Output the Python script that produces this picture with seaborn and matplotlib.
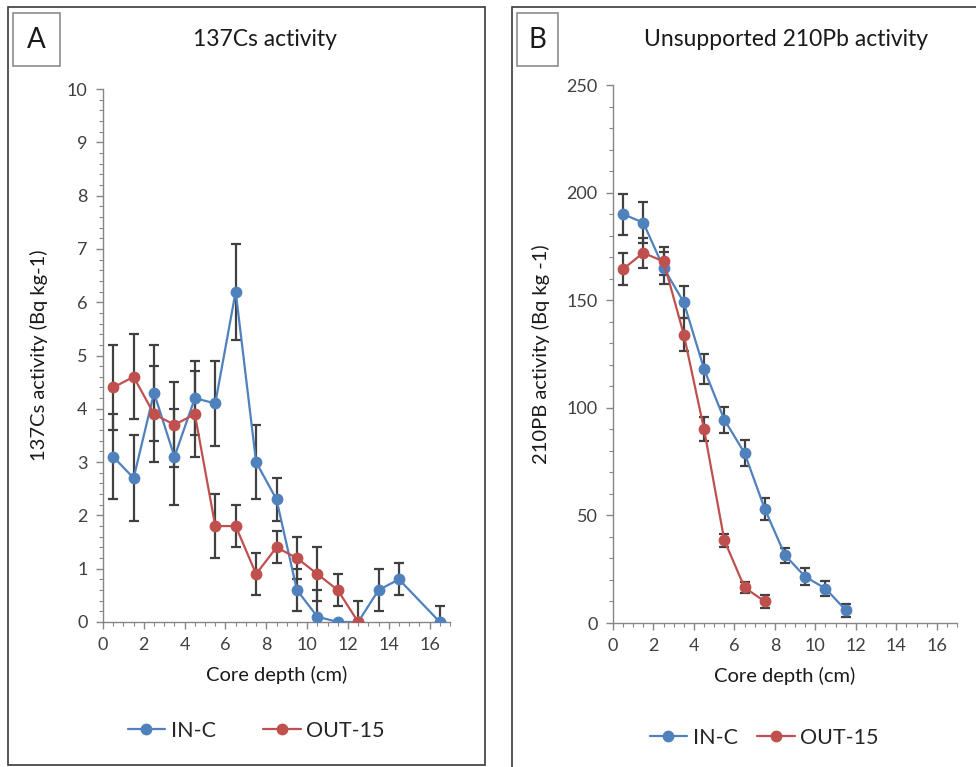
import matplotlib
matplotlib.use('Agg')
import matplotlib.pyplot as plt
import seaborn as sns
import pandas as pd
from matplotlib.ticker import MultipleLocator
from matplotlib.patches import Rectangle
from matplotlib.lines import Line2D

# ---------------- data ----------------
series_names = ['IN-C', 'OUT-15']

# Panel A: 137Cs activity
cs_in_depth = [0.5, 1.5, 2.5, 3.5, 4.5, 5.5, 6.5, 7.5, 8.5, 9.5, 10.5, 11.5, 12.5, 13.5, 14.5, 16.5]
cs_in_value = [3.1, 2.7, 4.3, 3.1, 4.2, 4.1, 6.2, 3.0, 2.3, 0.6, 0.1, 0.0, 0.0, 0.6, 0.8, 0.0]
cs_in_error = [0.8, 0.8, 0.9, 0.9, 0.7, 0.8, 0.9, 0.7, 0.4, 0.4, 0.5, 0.0, 0.0, 0.4, 0.3, 0.3]

cs_out_depth = [0.5, 1.5, 2.5, 3.5, 4.5, 5.5, 6.5, 7.5, 8.5, 9.5, 10.5, 11.5, 12.5]
cs_out_value = [4.4, 4.6, 3.9, 3.7, 3.9, 1.8, 1.8, 0.9, 1.4, 1.2, 0.9, 0.6, 0.0]
cs_out_error = [0.8, 0.8, 0.9, 0.8, 0.8, 0.6, 0.4, 0.4, 0.3, 0.4, 0.5, 0.3, 0.4]

# Panel B: unsupported 210Pb activity
pb_in_depth = [0.5, 1.5, 2.5, 3.5, 4.5, 5.5, 6.5, 7.5, 8.5, 9.5, 10.5, 11.5]
pb_in_value = [190, 186, 165, 149, 118, 94.5, 79, 53, 31.5, 21.5, 16, 6]
pb_in_error = [9.5, 9.5, 7.5, 7.5, 7, 6, 6, 5, 3.5, 4, 3.5, 3]

pb_out_depth = [0.5, 1.5, 2.5, 3.5, 4.5, 5.5, 6.5, 7.5]
pb_out_value = [164.5, 172, 168, 134, 90, 38.5, 16.5, 10]
pb_out_error = [7.5, 7, 6.5, 7.5, 5.5, 3, 2.5, 3]

x_ticks = [0, 2, 4, 6, 8, 10, 12, 14, 16]

# ---------------- style ----------------
sns.set_theme(style='white')
plt.rcParams['font.family'] = ['Lato', 'DejaVu Sans']

BLUE = '#4F81BD'
RED = '#C0504D'
ERR = '#404040'
AXIS = '#868686'
palette = {'IN-C': BLUE, 'OUT-15': RED}

fig = plt.figure(figsize=(9.76, 7.67), dpi=100)
axA = fig.add_axes([103 / 976, 1 - 622 / 767, (450 - 103) / 976, (622 - 89) / 767])
axB = fig.add_axes([613 / 976, 1 - 623 / 767, (957 - 613) / 976, (623 - 85) / 767])


def make_frame(d_in, v_in, e_in, d_out, v_out, e_out):
    a = pd.DataFrame({'depth': d_in, 'act': v_in, 'err': e_in, 'site': 'IN-C'})
    b = pd.DataFrame({'depth': d_out, 'act': v_out, 'err': e_out, 'site': 'OUT-15'})
    return pd.concat([a, b], ignore_index=True)


def draw(ax, df, ymax, ymajor, yminor, ylabel, ylabelpad):
    for name in series_names:
        sub = df[df['site'] == name]
        ax.errorbar(sub['depth'], sub['act'], yerr=sub['err'], fmt='none',
                    ecolor=ERR, elinewidth=1.6, capsize=3.5, capthick=1.6, zorder=2)
    sns.lineplot(data=df, x='depth', y='act', hue='site', hue_order=series_names,
                 palette=palette, marker='o', markersize=8.5, markeredgewidth=0,
                 linewidth=1.6, sort=False, estimator=None, errorbar=None,
                 legend=False, ax=ax, zorder=3)
    ax.set_xlim(0, 17)
    ax.set_ylim(0, ymax)
    ax.set_xticks(x_ticks)
    ax.xaxis.set_minor_locator(MultipleLocator(0.5))
    ax.yaxis.set_major_locator(MultipleLocator(ymajor))
    ax.yaxis.set_minor_locator(MultipleLocator(yminor))
    for s in ['top', 'right']:
        ax.spines[s].set_visible(False)
    for s in ['left', 'bottom']:
        ax.spines[s].set_color(AXIS)
        ax.spines[s].set_linewidth(1.0)
    ax.tick_params(which='major', direction='out', length=5, width=1, color=AXIS,
                   labelsize=13, labelcolor='#404040', left=True, bottom=True, pad=6)
    ax.tick_params(which='minor', direction='out', length=3, width=0.8, color=AXIS,
                   left=True, bottom=True)
    ax.set_xlabel('Core depth (cm)', fontsize=14.5, color='#1a1a1a', labelpad=9)
    ax.set_ylabel(ylabel, fontsize=14.5, color='#1a1a1a', labelpad=ylabelpad)
    ax.patch.set_alpha(0)


dfA = make_frame(cs_in_depth, cs_in_value, cs_in_error, cs_out_depth, cs_out_value, cs_out_error)
dfB = make_frame(pb_in_depth, pb_in_value, pb_in_error, pb_out_depth, pb_out_value, pb_out_error)

draw(axA, dfA, 10, 1, 0.2, '137Cs activity (Bq kg-1)', 14)
draw(axB, dfB, 250, 50, 10, '210PB activity (Bq kg -1)', 12)

# panel frames
fig.patches.append(Rectangle((8 / 976, 1 - 765 / 767), (485 - 8) / 976, (765 - 7) / 767,
                             transform=fig.transFigure, fill=False, ec='#3a3a3a', lw=1.2))
fig.patches.append(Rectangle((512 / 976, -0.05), 0.6, 1.05 - 7 / 767,
                             transform=fig.transFigure, fill=False, ec='#3a3a3a', lw=1.2))
# letter boxes
for (x0, x1, letter) in [(13, 60, 'A'), (517, 558, 'B')]:
    fig.patches.append(Rectangle((x0 / 976, 1 - 66 / 767), (x1 - x0) / 976, 53 / 767,
                                 transform=fig.transFigure, fill=False, ec='#8c8c8c', lw=1.2))
    fig.text((x0 + x1) / 2 / 976, 1 - 40 / 767, letter, ha='center', va='center',
             fontsize=20, color='#1a1a1a')

fig.text(265 / 976, 1 - 40 / 767, '137Cs activity', ha='center', va='center',
         fontsize=16.5, color='#1a1a1a')
fig.text(786 / 976, 1 - 40 / 767, 'Unsupported 210Pb activity', ha='center', va='center',
         fontsize=16.5, color='#1a1a1a')

handles = [Line2D([0], [0], color=palette[n], lw=1.6, marker='o', markersize=8.5,
                  markeredgewidth=0) for n in series_names]
fig.legend(handles, series_names, loc='center', bbox_to_anchor=(256 / 976, 1 - 731 / 767),
           ncol=2, frameon=False, fontsize=15.5, handlelength=1.75, handletextpad=0.25,
           columnspacing=2.2)
fig.legend(handles, series_names, loc='center', bbox_to_anchor=(764 / 976, 1 - 738 / 767),
           ncol=2, frameon=False, fontsize=15.5, handlelength=1.75, handletextpad=0.25,
           columnspacing=0.9)

fig.savefig('out.png', dpi=100)
